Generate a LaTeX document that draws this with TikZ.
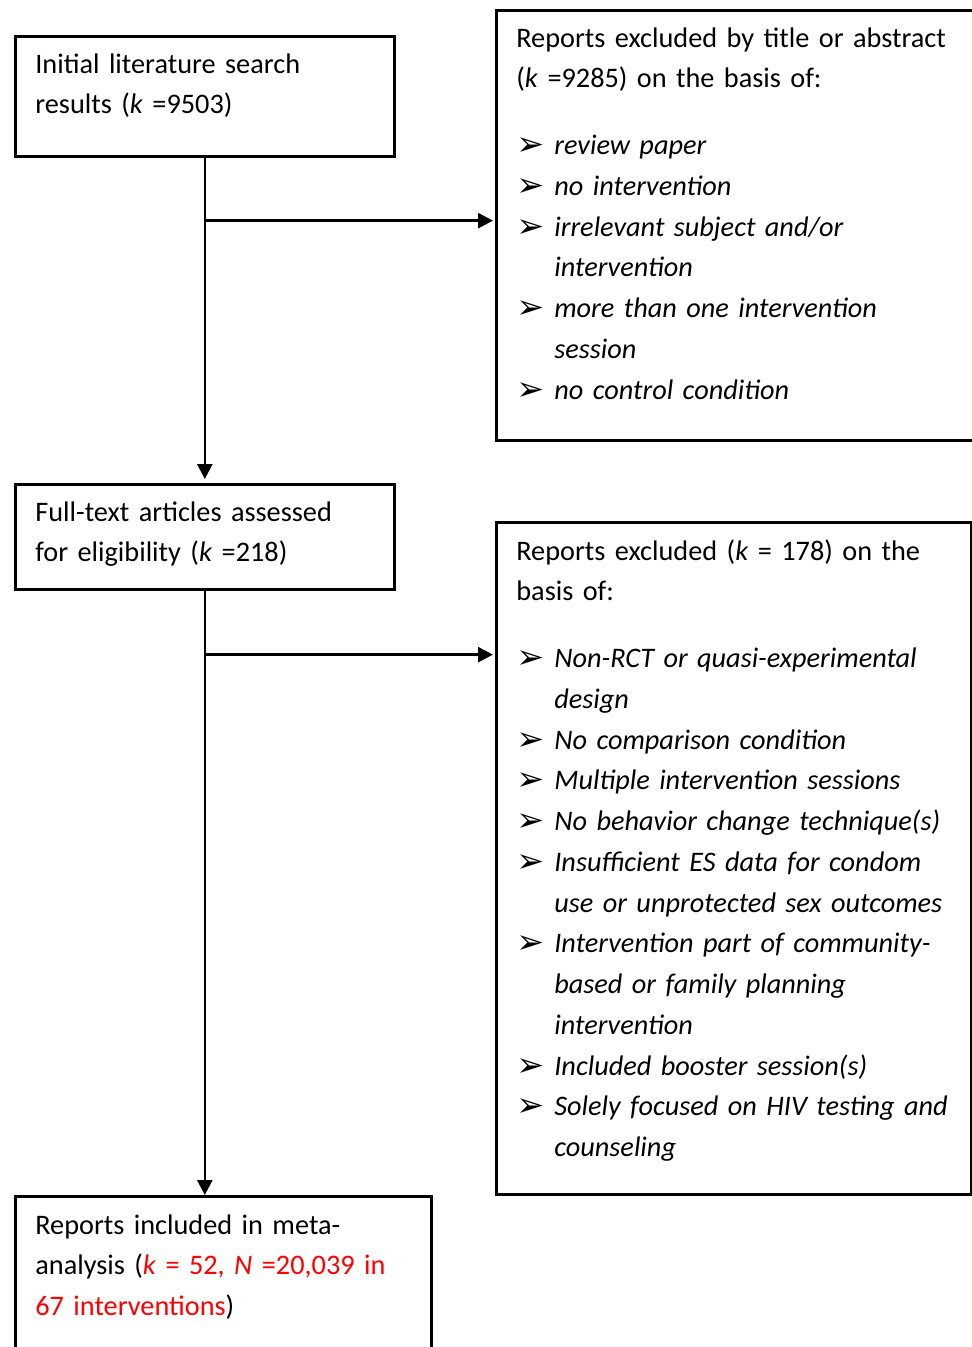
\documentclass[tikz,border=0pt]{standalone}
\usepackage{fontspec}
\setmainfont{Carlito}
\newfontfamily\symfont{DejaVu Sans}
\usetikzlibrary{arrows.meta}

\newlength\px
\setlength\px{0.02cm}
\newcommand\itm{\par\hangindent=38\px\hangafter=1\noindent
  \makebox[38\px][l]{\raisebox{-1\px}{\symfont\fontsize{19}{19}\selectfont ➢}}}

\begin{document}
\begin{tikzpicture}[x=0.02cm,y=-0.02cm]
\tikzstyle{every node}=[inner sep=0]
\tikzstyle{box}=[draw,line width=1.5pt,anchor=north west]
\tikzstyle{txt}=[anchor=base west,align=left,font=\fontsize{16.1}{23.2}\selectfont]
\tikzstyle{flow}=[-{Triangle[length=0.3cm,width=0.3cm]},line width=1.5pt]
\useasboundingbox (0,0) rectangle (972,1347);
 % boxes
 \node[box,minimum width=379\px,minimum height=120\px] (search)   at (14,35)   {};
 \node[box,minimum width=479\px,minimum height=430\px] (title)    at (495,9)   {};
 \node[box,minimum width=379\px,minimum height=105\px] (fulltext) at (14,483)  {};
 \node[box,minimum width=475\px,minimum height=672\px] (excluded) at (495,521) {};
 \node[box,minimum width=416\px,minimum height=160\px] (included) at (14,1195) {};
 % texts
 \node[txt,text width=360\px] (search txt) at (35,73)
  {Initial literature search\\results (\textit{k} =9503)};
 \node[txt,text width=450\px] (title txt) at (516,47)
  {Reports excluded by title or abstract\\(\textit{k} =9285) on the basis of:\par\vspace{26\px}
   \itshape
   \itm review paper
   \itm no intervention
   \itm irrelevant subject and/or\newline intervention
   \itm more than one intervention\newline session
   \itm no control condition\par};
 \node[txt,text width=360\px] (fulltext txt) at (35,521)
  {Full-text articles assessed\\for eligibility (\textit{k} =218)};
 \node[txt,text width=450\px] (excluded txt) at (516,560)
  {Reports excluded (\textit{k} = 178) on the\\basis of:\par\vspace{26\px}
   \itshape
   \itm Non-RCT or quasi-experimental\newline design
   \itm No comparison condition
   \itm Multiple intervention sessions
   \itm No behavior change technique(s)
   \itm Insufficient ES data for condom\newline use or unprotected sex outcomes
   \itm Intervention part of community-\newline based or family planning\newline intervention
   \itm Included booster session(s)
   \itm Solely focused on HIV testing and\newline counseling\par};
 \node[txt,text width=400\px] (included txt) at (35,1234)
  {Reports included in meta-\\analysis (\textcolor{red}{\textit{k} = 52, \textit{N} =20,039 in}\\
   \textcolor{red}{67 interventions})};
 % connectors
 \path (search.south) ++(0,63) coordinate (j1);
 \path (fulltext.south) ++(0,64) coordinate (j2);
 \draw[flow,shorten >=4\px] (search.south) -- (fulltext.north);
 \draw[flow,shorten >=2\px] (j1) -- (j1 -| title.west);
 \draw[flow] (fulltext.south) -- (fulltext.south |- included.north);
 \draw[flow,shorten >=2\px] (j2) -- (j2 -| excluded.west);
\end{tikzpicture}
\end{document}
